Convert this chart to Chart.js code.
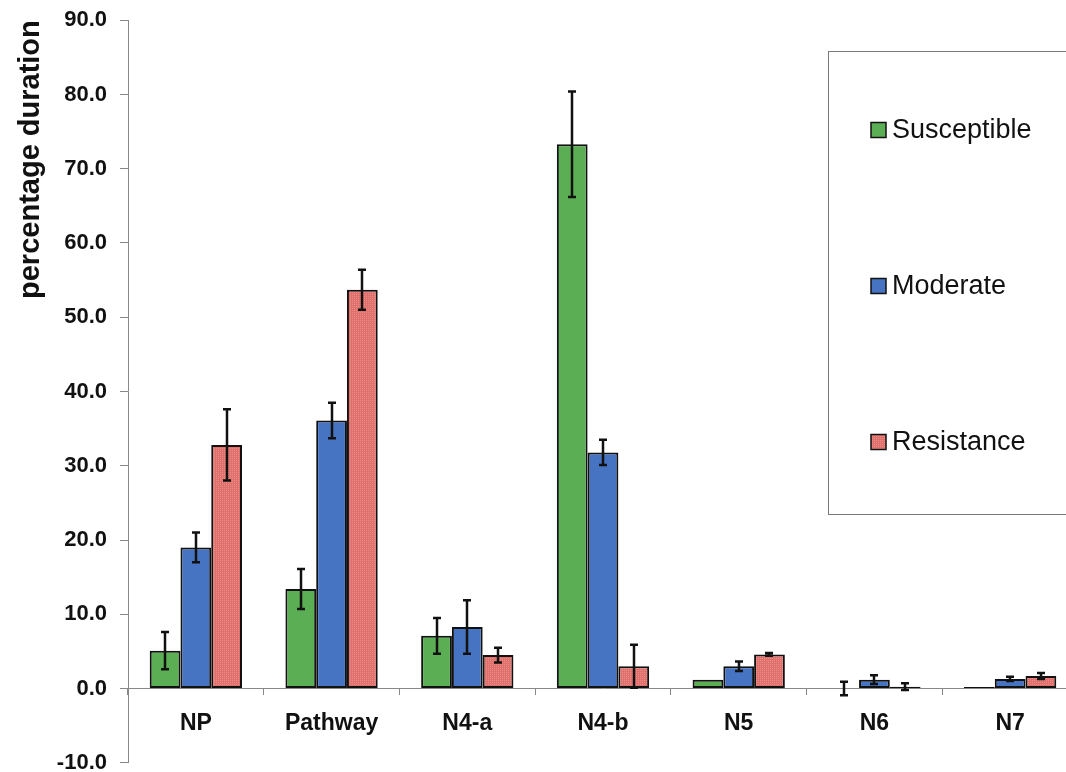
<!DOCTYPE html>
<html>
<head>
<meta charset="utf-8">
<script src="https://cdn.jsdelivr.net/npm/chart.js@4.4.1/dist/chart.umd.min.js"></script>
<style>
  html, body { margin: 0; padding: 0; background: #fff; overflow: hidden; width: 1066px; height: 772px; }
  canvas { display: block; margin-top: -6px; }
</style>
</head>
<body>
<canvas id="c" width="1100" height="795"></canvas>
<script>
// Categories and group values (mean and error half-width)
const categories = ['NP', 'Pathway', 'N4-a', 'N4-b', 'N5', 'N6', 'N7'];
const seriesNames = ['Susceptible', 'Moderate', 'Resistance'];
const susceptible    = [5.1, 13.4, 7.1, 73.3, 1.2, 0.0, 0.2];
const susceptibleErr = [2.5, 2.7, 2.4, 7.1, 0.0, 0.9, 0.0];
const moderate       = [19.0, 36.1, 8.3, 31.8, 3.0, 1.2, 1.3];
const moderateErr    = [2.0, 2.4, 3.6, 1.7, 0.65, 0.6, 0.3];
const resistance     = [32.8, 53.7, 4.5, 3.0, 4.6, 0.25, 1.7];
const resistanceErr  = [4.8, 2.7, 1.0, 2.9, 0.2, 0.45, 0.4];
const yMin = -10, yMax = 90, yStep = 10;

const FONT = "'Liberation Sans', Arial, Helvetica, sans-serif";
Chart.defaults.font.family = FONT;
Chart.defaults.color = '#111';

// Fine dotted fill for the red series
function speckle(base, dot) {
  const c = document.createElement('canvas');
  c.width = c.height = 4;
  const g = c.getContext('2d');
  g.fillStyle = base; g.fillRect(0, 0, 4, 4);
  g.fillStyle = dot;
  g.fillRect(0, 0, 1, 1); g.fillRect(2, 2, 1, 1);
  g.fillRect(2, 0, 1, 1); g.fillRect(0, 2, 1, 1);
  return g.createPattern(c, 'repeat');
}

// Vertical error bars with caps, drawn on top of each bar
const errorBars = {
  id: 'errorBars',
  afterDatasetsDraw(chart, args, opts) {
    const ctx = chart.ctx, ys = chart.scales.y;
    ctx.save();
    ctx.strokeStyle = opts.color;
    ctx.lineWidth = opts.width;
    chart.data.datasets.forEach((ds, i) => {
      const meta = chart.getDatasetMeta(i);
      meta.data.forEach((bar, j) => {
        const e = ds.errors[j];
        if (!e) return;
        const v = ds.data[j];
        const t = ys.getPixelForValue(v + e), b = ys.getPixelForValue(v - e);
        const x = Math.round(bar.x), h = opts.cap / 2;
        ctx.beginPath();
        ctx.moveTo(x, t); ctx.lineTo(x, b);
        ctx.moveTo(x - h, t); ctx.lineTo(x + h, t);
        ctx.moveTo(x - h, b); ctx.lineTo(x + h, b);
        ctx.stroke();
      });
    });
    ctx.restore();
  }
};

// Framed legend with widely spaced entries
const boxLegend = {
  id: 'boxLegend',
  afterDraw(chart, args, o) {
    const ctx = chart.ctx;
    ctx.save();
    ctx.strokeStyle = '#7a7a7a';
    ctx.lineWidth = 1;
    ctx.strokeRect(o.left + 0.5, o.top + 0.5, o.width, o.height);
    ctx.font = o.fontSize + 'px ' + FONT;
    ctx.textBaseline = 'middle';
    ctx.textAlign = 'left';
    chart.data.datasets.forEach((ds, i) => {
      const cy = o.firstY + i * o.gap;
      ctx.fillStyle = ds.backgroundColor;
      ctx.fillRect(o.markerX, cy - o.marker / 2, o.marker, o.marker);
      ctx.strokeStyle = '#111';
      ctx.lineWidth = 1.5;
      ctx.strokeRect(o.markerX, cy - o.marker / 2, o.marker, o.marker);
      ctx.fillStyle = '#111';
      ctx.fillText(ds.label, o.textX, cy + 1);
    });
    ctx.restore();
  }
};

const values = [susceptible, moderate, resistance];
const errors = [susceptibleErr, moderateErr, resistanceErr];
const fills = ['#5cae54', '#4673c2', speckle('#e0706b', '#e98e89')];

new Chart(document.getElementById('c'), {
  type: 'bar',
  data: {
    labels: categories,
    datasets: seriesNames.map((name, i) => ({
      label: name,
      data: values[i],
      errors: errors[i],
      backgroundColor: fills[i],
      borderColor: '#111',
      borderWidth: 2,
      borderSkipped: false,
      categoryPercentage: 0.68,
      barPercentage: 1.0
    }))
  },
  plugins: [errorBars, boxLegend],
  options: {
    responsive: false,
    devicePixelRatio: 1,
    animation: false,
    layout: { padding: { left: 0, right: 22, top: 14, bottom: 10 } },
    plugins: {
      legend: { display: false },
      tooltip: { enabled: false },
      errorBars: { color: '#111', width: 2.5, cap: 8 },
      boxLegend: {
        left: 828, top: 57, width: 300, height: 463,
        markerX: 871, marker: 15, textX: 892, firstY: 136, gap: 156, fontSize: 27
      }
    },
    scales: {
      x: {
        type: 'category',
        position: { y: 0 },
        offset: true,
        grid: { display: true, offset: true, drawOnChartArea: false, drawTicks: true, tickLength: 6, color: '#888' },
        border: { display: true, color: '#888', width: 1 },
        ticks: { font: { size: 23, weight: 'bold' }, color: '#111', padding: 15, maxRotation: 0 }
      },
      y: {
        min: yMin, max: yMax,
        afterFit(scale) { scale.width = 128; },
        grid: { display: true, drawOnChartArea: false, drawTicks: true, tickLength: 8, color: '#888' },
        border: { display: true, color: '#888', width: 1 },
        ticks: {
          stepSize: yStep,
          padding: 13,
          font: { size: 22, weight: 'bold' },
          color: '#111',
          callback: v => Number(v).toFixed(1)
        },
        title: {
          display: true,
          text: 'percentage duration',
          align: 'end',
          font: { size: 29, weight: 'bold' },
          color: '#111',
          padding: { top: 14, bottom: 0 }
        }
      }
    }
  }
});
</script>
</body>
</html>
